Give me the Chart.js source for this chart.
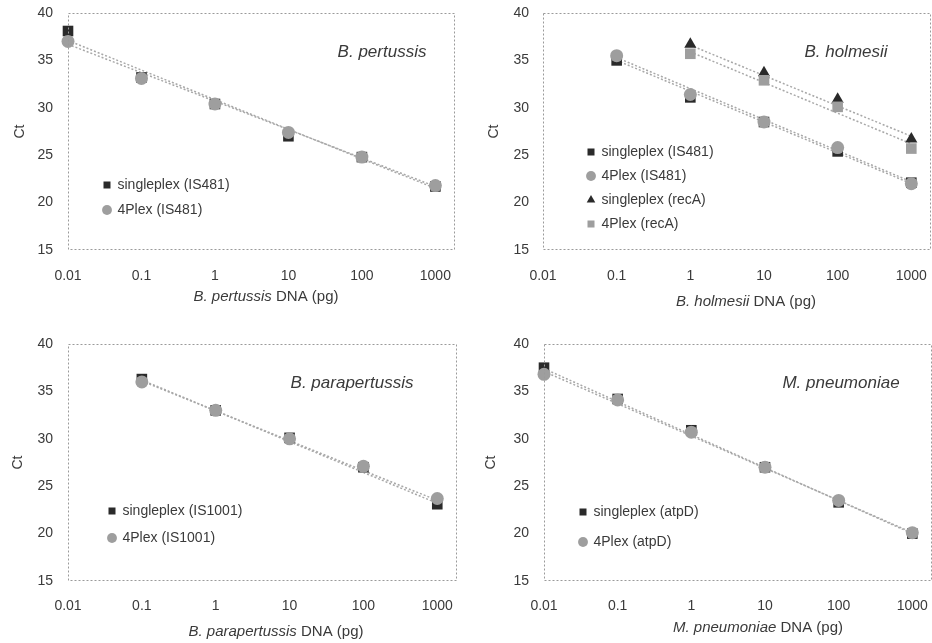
<!DOCTYPE html>
<html><head><meta charset="utf-8">
<script src="https://cdn.jsdelivr.net/npm/chart.js@4.4.1/dist/chart.umd.min.js"></script>
<style>
html,body{margin:0;padding:0;background:#fff;}
#wrap{position:relative;width:932px;height:643px;overflow:hidden;background:#fff;}
.p{position:absolute;}
</style></head><body>
<div id="wrap">
<div class="p" style="left:0;top:0;"><canvas id="c1" width="466" height="320"></canvas></div>
<div class="p" style="left:466px;top:0;"><canvas id="c2" width="466" height="320"></canvas></div>
<div class="p" style="left:0;top:320px;"><canvas id="c3" width="466" height="323"></canvas></div>
<div class="p" style="left:466px;top:320px;"><canvas id="c4" width="466" height="323"></canvas></div>
</div>
<script>
// ---------- data ----------
const xTickValues = [0.01, 0.1, 1, 10, 100, 1000];
const xTickLabels = ['0.01', '0.1', '1', '10', '100', '1000'];
const yMin = 15, yMax = 40, yStep = 5;

// B. pertussis
const pertussisX = [0.01, 0.1, 1, 10, 100, 1000];
const pertussisSingle = [38.1, 33.2, 30.4, 27.0, 24.8, 21.7];
const pertussis4Plex = [37.0, 33.1, 30.4, 27.4, 24.8, 21.8];
const pertussisTrendX = [0.01, 1000];
const pertussisSingleTrend = [37.1, 21.5];
const pertussis4PlexTrend = [36.7, 21.7];

// B. holmesii
const holmesiiIS481X = [0.1, 1, 10, 100, 1000];
const holmesiiSingleIS481 = [35.0, 31.1, 28.5, 25.4, 22.1];
const holmesii4PlexIS481 = [35.5, 31.4, 28.5, 25.8, 22.0];
const holmesiiRecAX = [1, 10, 100, 1000];
const holmesiiSingleRecA = [36.7, 33.7, 30.9, 26.7];
const holmesii4PlexRecA = [35.7, 32.9, 30.1, 25.7];
const holmesiiIS481TrendX = [0.1, 1000];
const holmesiiSingleIS481Trend = [35.0, 22.0];
const holmesii4PlexIS481Trend = [35.3, 22.2];
const holmesiiRecATrendX = [1, 1000];
const holmesiiSingleRecATrend = [36.6, 27.0];
const holmesii4PlexRecATrend = [35.9, 26.2];

// B. parapertussis
const paraX = [0.1, 1, 10, 100, 1000];
const paraSingle = [36.3, 33.0, 30.1, 27.0, 23.1];
const para4Plex = [36.0, 33.0, 30.0, 27.1, 23.7];
const paraTrendX = [0.1, 1000];
const paraSingleTrend = [36.2, 23.2];
const para4PlexTrend = [36.1, 23.5];

// M. pneumoniae
const pneumoX = [0.01, 0.1, 1, 10, 100, 1000];
const pneumoSingle = [37.5, 34.2, 30.9, 27.0, 23.3, 20.0];
const pneumo4Plex = [36.8, 34.1, 30.7, 27.0, 23.5, 20.1];
const pneumoTrendX = [0.01, 1000];
const pneumoSingleTrend = [37.4, 20.0];
const pneumo4PlexTrend = [37.1, 20.1];

// ---------- helpers ----------
const FONT = '"Liberation Sans", Arial, sans-serif';
const TXT = '#3a3a3a';
const DARK = '#2a2a2a';
const GREY = '#9e9e9e';
const LINE = '#a8a8a8';

function pts(xs, ys) { return xs.map((x, i) => ({x: x, y: ys[i]})); }

function pointSet(label, xs, ys, style, color, radius, order) {
  return {label: label, data: pts(xs, ys), pointStyle: style, pointRadius: radius,
    pointHoverRadius: radius, backgroundColor: color, borderColor: color, borderWidth: 0,
    showLine: false, order: order, clip: false};
}
function trendSet(xs, ys) {
  return {label: '_trend', data: pts(xs, ys), showLine: true, pointRadius: 0,
    borderColor: LINE, borderWidth: 1.5, borderDash: [2, 2], backgroundColor: LINE,
    fill: false, order: 5};
}

const decoPlugin = {
  id: 'deco',
  afterDraw(chart, args, o) {
    const ctx = chart.ctx, a = chart.chartArea;
    ctx.save();
    ctx.strokeStyle = '#9a9a9a';
    ctx.lineWidth = 1;
    ctx.setLineDash([2, 2]);
    ctx.strokeRect(a.left + 0.5, a.top + 0.5, a.right - a.left - 1, a.bottom - a.top - 1);
    ctx.setLineDash([]);
    ctx.fillStyle = TXT;
    ctx.textBaseline = 'middle';
    ctx.textAlign = 'center';
    ctx.font = 'italic 17px ' + FONT;
    ctx.fillText(o.title, o.titleX, o.titleY);
    ctx.textAlign = 'left';
    const fi = 'italic 15px ' + FONT, fr = '15px ' + FONT;
    ctx.font = fi; const w1 = ctx.measureText(o.xItalic).width;
    ctx.font = fr; const w2 = ctx.measureText(o.xRest).width;
    let sx = o.xTitleX - (w1 + w2) / 2;
    ctx.font = fi; ctx.fillText(o.xItalic, sx, o.xTitleY);
    ctx.font = fr; ctx.fillText(o.xRest, sx + w1, o.xTitleY);
    ctx.restore();
  }
};

const legendPosPlugin = {
  id: 'legendPos',
  afterLayout(chart, args, o) {
    const lg = chart.legend;
    if (!lg) return;
    const pad = o.padding, bw = o.boxWidth, fs = o.fontSize;
    const left = o.x - bw / 2 - pad;
    const top = o.y - pad - fs / 2;
    const w = lg.width, h = 400;
    lg.left = left; lg.right = left + w;
    lg.top = top; lg.bottom = top + h;
    lg.height = h;
  }
};

function makePanel(id, cfg) {
  const ctx = document.getElementById(id);
  return new Chart(ctx, {
    type: 'scatter',
    data: {datasets: cfg.datasets},
    plugins: [decoPlugin, legendPosPlugin],
    options: {
      responsive: false,
      animation: false,
      events: [],
      layout: {autoPadding: false, padding: {left: 0, right: cfg.padRight, top: cfg.padTop, bottom: 0}},
      scales: {
        x: {
          type: 'logarithmic', min: 0.01, max: 1850,
          afterBuildTicks: (s) => { s.ticks = xTickValues.map(v => ({value: v})); },
          afterFit: (s) => { s.height = cfg.xHeight; s.paddingLeft = 0; s.paddingRight = 0; },
          ticks: {
            autoSkip: false, maxRotation: 0, padding: cfg.xTickPad,
            color: TXT, font: {family: FONT, size: 14},
            callback: (v, i) => xTickLabels[i]
          },
          grid: {display: false, drawTicks: false},
          border: {display: false}
        },
        y: {
          type: 'linear', min: yMin, max: yMax,
          afterFit: (s) => { s.width = cfg.yWidth; s.paddingTop = 0; s.paddingBottom = 0; },
          ticks: {stepSize: yStep, padding: cfg.yTickPad, color: TXT, font: {family: FONT, size: 14}},
          grid: {display: false, drawTicks: false},
          border: {display: false},
          title: {display: true, text: 'Ct', color: TXT, font: {family: FONT, size: 14},
            padding: {top: cfg.yTitlePad, bottom: 0}}
        }
      },
      plugins: {
        tooltip: {enabled: false},
        legend: {
          display: true, position: 'chartArea', align: 'start',
          labels: {
            usePointStyle: true, boxWidth: 7, boxHeight: 7, padding: cfg.legendPad,
            color: TXT, font: {family: FONT, size: 14},
            filter: (item) => item.text !== '_trend',
            sort: (a, b) => a.datasetIndex - b.datasetIndex
          }
        },
        legendPos: {x: cfg.legendX, y: cfg.legendY, padding: cfg.legendPad, boxWidth: 7, fontSize: 14},
        deco: cfg.deco
      }
    }
  });
}

makePanel('c1', {
  padRight: 11, padTop: 13, xHeight: 70, yWidth: 68, xTickPad: 18, yTickPad: 15, yTitlePad: 12,
  legendX: 107, legendY: 185, legendPad: 11,
  deco: {title: 'B. pertussis', titleX: 382, titleY: 52, xItalic: 'B. pertussis', xRest: ' DNA (pg)', xTitleX: 266, xTitleY: 297},
  datasets: [
    pointSet('singleplex (IS481)', pertussisX, pertussisSingle, 'rect', DARK, 7.5, 2),
    pointSet('4Plex (IS481)', pertussisX, pertussis4Plex, 'circle', GREY, 6.5, 1),
    trendSet(pertussisTrendX, pertussisSingleTrend),
    trendSet(pertussisTrendX, pertussis4PlexTrend)
  ]
});

makePanel('c2', {
  padRight: 1, padTop: 13, xHeight: 70, yWidth: 77, xTickPad: 18, yTickPad: 14, yTitlePad: 20,
  legendX: 125, legendY: 152, legendPad: 10,
  deco: {title: 'B. holmesii', titleX: 380, titleY: 52, xItalic: 'B. holmesii', xRest: ' DNA (pg)', xTitleX: 280, xTitleY: 302},
  datasets: [
    pointSet('singleplex (IS481)', holmesiiIS481X, holmesiiSingleIS481, 'rect', DARK, 7.5, 2),
    pointSet('4Plex (IS481)', holmesiiIS481X, holmesii4PlexIS481, 'circle', GREY, 6.5, 1),
    pointSet('singleplex (recA)', holmesiiRecAX, holmesiiSingleRecA, 'triangle', DARK, 7, 2),
    pointSet('4Plex (recA)', holmesiiRecAX, holmesii4PlexRecA, 'rect', GREY, 7.5, 1),
    trendSet(holmesiiIS481TrendX, holmesiiSingleIS481Trend),
    trendSet(holmesiiIS481TrendX, holmesii4PlexIS481Trend),
    trendSet(holmesiiRecATrendX, holmesiiSingleRecATrend),
    trendSet(holmesiiRecATrendX, holmesii4PlexRecATrend)
  ]
});

makePanel('c3', {
  padRight: 9, padTop: 24, xHeight: 62, yWidth: 68, xTickPad: 17, yTickPad: 15, yTitlePad: 10,
  legendX: 112, legendY: 191, legendPad: 13,
  deco: {title: 'B. parapertussis', titleX: 352, titleY: 63, xItalic: 'B. parapertussis', xRest: ' DNA (pg)', xTitleX: 276, xTitleY: 312},
  datasets: [
    pointSet('singleplex (IS1001)', paraX, paraSingle, 'rect', DARK, 7.5, 2),
    pointSet('4Plex (IS1001)', paraX, para4Plex, 'circle', GREY, 6.5, 1),
    trendSet(paraTrendX, paraSingleTrend),
    trendSet(paraTrendX, para4PlexTrend)
  ]
});

makePanel('c4', {
  padRight: 0, padTop: 24, xHeight: 62, yWidth: 78, xTickPad: 17, yTickPad: 15, yTitlePad: 17,
  legendX: 117, legendY: 192, legendPad: 16,
  deco: {title: 'M. pneumoniae', titleX: 375, titleY: 63, xItalic: 'M. pneumoniae', xRest: ' DNA (pg)', xTitleX: 292, xTitleY: 308},
  datasets: [
    pointSet('singleplex (atpD)', pneumoX, pneumoSingle, 'rect', DARK, 7.5, 2),
    pointSet('4Plex (atpD)', pneumoX, pneumo4Plex, 'circle', GREY, 6.5, 1),
    trendSet(pneumoTrendX, pneumoSingleTrend),
    trendSet(pneumoTrendX, pneumo4PlexTrend)
  ]
});
</script>
</body></html>
